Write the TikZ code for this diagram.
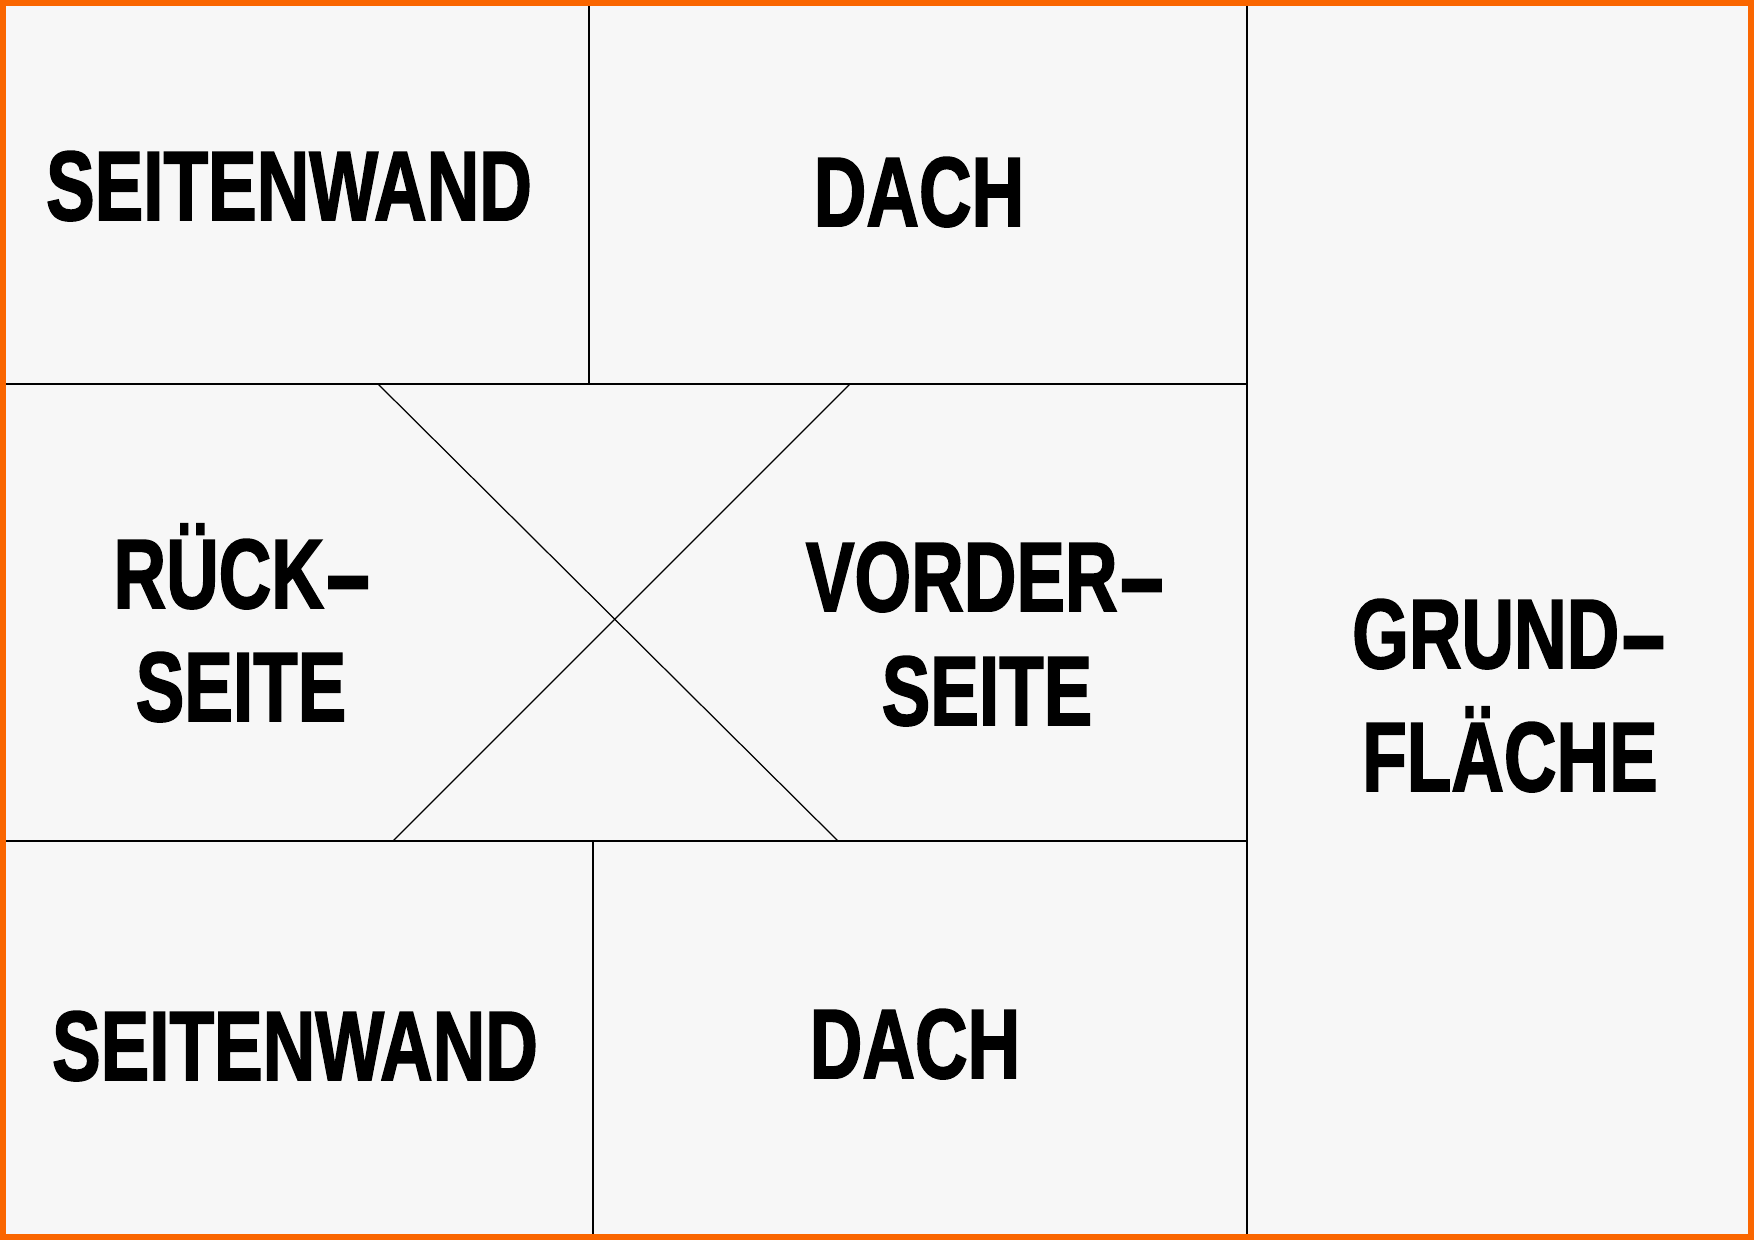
\documentclass[tikz,border=0pt]{standalone}
\usepackage{graphicx}
\usepackage{fontspec}
\newfontfamily\brushfont[BoldFeatures={FakeBold=2}]{Liberation Sans}
\newcommand\brush[1]{\scalebox{0.74}[1]{#1}}
\newcommand\widehyphen{\scalebox{2}[1]{-}}
\definecolor{frameorange}{RGB}{250,102,0}
\definecolor{paper}{RGB}{247,247,247}
\begin{document}
\begin{tikzpicture}[x=0.01cm,y=-0.01cm,
    label/.style={anchor=base,inner sep=0pt,font=\brushfont\bfseries\fontsize{28}{34}\selectfont},
    fold/.style={line width=0.6pt},
    cut/.style={line width=0.35pt}]
            \useasboundingbox (0,0) rectangle (1754,1240);
            \fill[frameorange] (0,0) rectangle (1754,1240);
            \fill[paper] (6,6) rectangle (1748,1234);
            \coordinate (tl) at (6,384);
            \coordinate (tr) at (1247,384);
            \coordinate (bl) at (6,841);
            \coordinate (br) at (1247,841);
            \coordinate (rt) at (1247,6);
            \coordinate (rb) at (1247,1234);
            \coordinate (mt) at (589,6);
            \coordinate (mb) at (589,384);
            \coordinate (nt) at (593,841);
            \coordinate (nb) at (593,1234);
            \coordinate (a) at (378,384);
            \coordinate (b) at (838,841);
            \coordinate (c) at (850,384);
            \coordinate (d) at (393,841);
            \draw[fold] (tl) -- (tr);
            \draw[fold] (bl) -- (br);
            \draw[fold] (rt) -- (rb);
            \draw[fold] (mt) -- (mb);
            \draw[fold] (nt) -- (nb);
            \draw[cut] (a) -- (b);
            \draw[cut] (c) -- (d);
            \node[label] (wandtop) at (289,220) {\brush{SEITENWAND}};
            \node[label] (dachtop) at (919,226) {\brush{DACH}};
            \node[label] (rueck) at (243,608) {\brush{RÜCK\widehyphen}};
            \node[label] (rueckseite) at (241,721) {\brush{SEITE}};
            \node[label] (vorder) at (986,611) {\brush{VORDER\widehyphen}};
            \node[label] (vorderseite) at (987,725) {\brush{SEITE}};
            \node[label] (grund) at (1510,668) {\brush{GRUND\widehyphen}};
            \node[label] (flaeche) at (1510,791) {\brush{FLÄCHE}};
            \node[label] (wandbottom) at (295,1080) {\brush{SEITENWAND}};
            \node[label] (dachbottom) at (915,1078) {\brush{DACH}};
\end{tikzpicture}
\end{document}
